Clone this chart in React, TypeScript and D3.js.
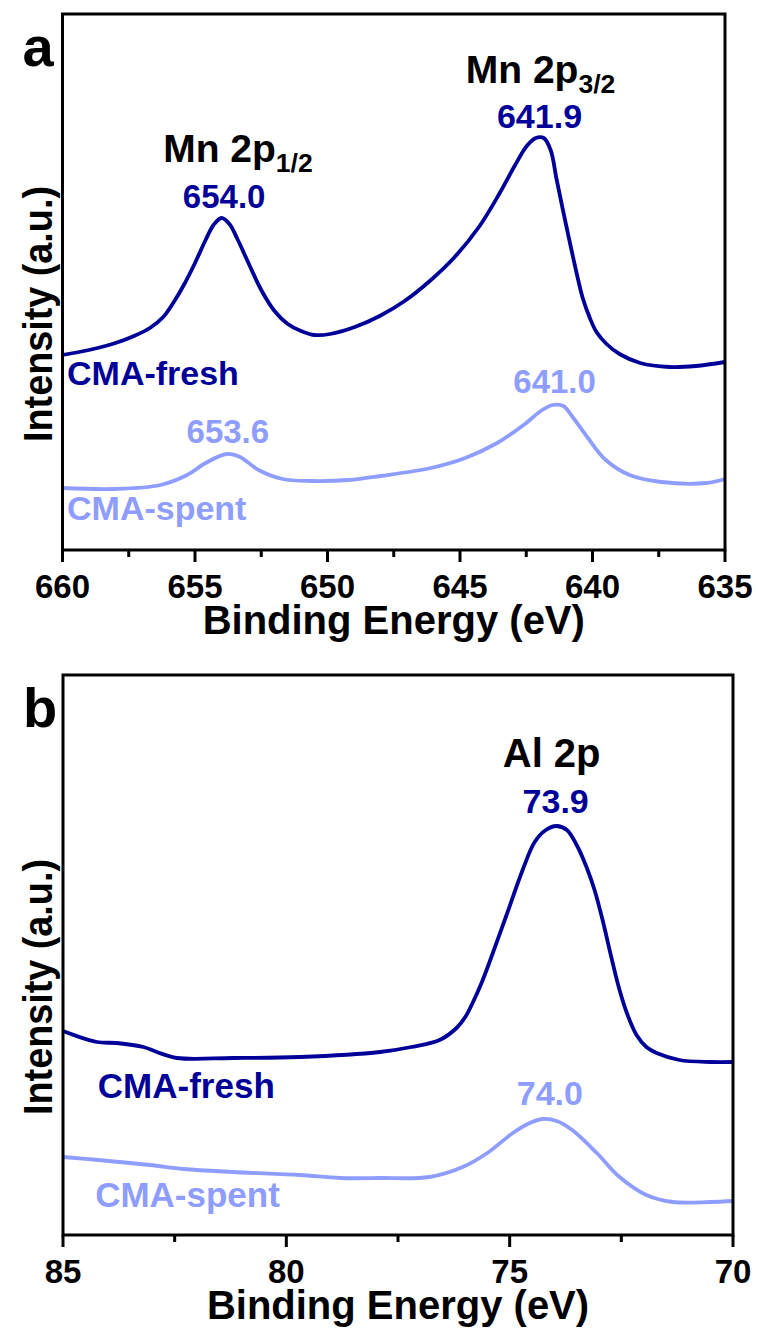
import React from 'react';
import * as d3 from 'd3';

// Mn 2p region (binding energy in eV, intensity in a.u.)
const MN_FRESH_E = [660, 659, 658, 657.3, 656.7, 656.2, 655.8, 655.4, 655, 654.6, 654.3, 654.0, 653.7, 653.4, 653, 652.5, 652, 651.5, 651, 650.5, 649.9, 648.97, 648.03, 647.09, 646.14, 645.2, 644.26, 643.5, 642.94, 642.48, 642.14, 641.84, 641.58, 641.35, 640.98, 640.6, 640.37, 640.1, 639.85, 639.47, 638.98, 638.2, 637.1, 636.1, 635];
const MN_FRESH_I = [195, 200, 207, 214, 222, 233, 248, 266, 287, 310, 325, 332, 326, 311, 288, 260, 239, 226, 219, 215, 216, 223, 234, 249, 269, 293, 324, 357, 384, 404, 412, 412, 400, 370, 323, 277, 252, 232, 218, 206, 196, 187, 183, 184, 188];
const MN_SPENT_E = [660, 658, 656.3, 655.3, 654.6, 653.8, 653.3, 652.6, 651.7, 650.6, 649.2, 648, 646.1, 644.8, 643.6, 642.6, 641.9, 641.5, 641.1, 640.75, 640.2, 639.5, 638.6, 637.4, 635.7, 635];
const MN_SPENT_I = [62, 61, 65, 75, 87, 96, 93, 80, 71, 69, 70, 74, 82, 92, 107, 125, 140, 145, 144, 133, 113, 90, 75, 68, 67, 71];
const MN_TICKS = [660, 655, 650, 645, 640, 635];

// Al 2p region
const AL_FRESH_E = [85, 84.24, 83.8, 83.2, 82.9, 82.45, 81.2, 79.7, 77.9, 77.2, 76.57, 76.19, 75.98, 75.83, 75.63, 75.45, 75.07, 74.71, 74.44, 74.19, 73.95, 73.72, 73.5, 73.28, 73.1, 72.92, 72.72, 72.54, 72.36, 72.16, 71.94, 71.71, 71.2, 70.5, 70];
const AL_FRESH_I = [204, 193, 192, 188, 183, 177, 177, 178, 183, 188, 195, 207, 219, 232, 252, 273, 320, 365, 393, 405, 409, 405, 390, 368, 345, 315, 277, 245, 220, 200, 188, 182, 175, 173, 173];
const AL_SPENT_E = [85, 84.2, 83.05, 82.3, 81.2, 79.7, 78.8, 77.9, 76.8, 76.05, 75.5, 74.93, 74.55, 74.26, 73.95, 73.6, 73.05, 72.54, 71.94, 71.35, 70.5, 70];
const AL_SPENT_I = [78, 75, 70, 66, 63, 60, 57, 57, 58, 68, 82, 102, 112, 116, 114, 105, 82, 58, 40, 33, 33, 34];
const AL_TICKS = [85, 80, 75, 70];

const FRESH = '#000099';
const SPENT = '#8E9DFF';
const FONT = '"Liberation Sans", Arial, sans-serif';

interface Note {
  text: string;
  sub?: string;
  e: number;
  i: number;
  color: string;
  size: number;
  anchor?: 'start' | 'middle';
}

const MN_NOTES: Note[] = [
  { text: 'Mn 2p', sub: '1/2', e: 653.38, i: 388, color: '#000', size: 39 },
  { text: '654.0', e: 653.9, i: 342, color: FRESH, size: 33 },
  { text: 'Mn 2p', sub: '3/2', e: 641.96, i: 467, color: '#000', size: 39 },
  { text: '641.9', e: 642.0, i: 422, color: FRESH, size: 34 },
  { text: '653.6', e: 653.76, i: 107, color: SPENT, size: 33 },
  { text: '641.0', e: 641.43, i: 157, color: SPENT, size: 33 },
  { text: 'CMA-fresh', e: 659.83, i: 165, color: FRESH, size: 34, anchor: 'start' },
  { text: 'CMA-spent', e: 659.83, i: 30, color: SPENT, size: 34, anchor: 'start' },
];

const AL_NOTES: Note[] = [
  { text: 'Al 2p', e: 74.06, i: 468, color: '#000', size: 40 },
  { text: '73.9', e: 73.97, i: 422, color: FRESH, size: 34 },
  { text: '74.0', e: 74.1, i: 130, color: SPENT, size: 34 },
  { text: 'CMA-fresh', e: 84.22, i: 137, color: FRESH, size: 35, anchor: 'start' },
  { text: 'CMA-spent', e: 84.28, i: 28, color: SPENT, size: 35, anchor: 'start' },
];

interface PanelProps {
  letter: string;
  left: number;
  right: number;
  top: number;
  bottom: number;
  xDomain: [number, number];
  yMax: number;
  ticks: number[];
  series: { e: number[]; i: number[]; color: string }[];
  notes: Note[];
}

const Panel: React.FC<PanelProps> = ({ letter, left, right, top, bottom, xDomain, yMax, ticks, series, notes }) => {
  const x = d3.scaleLinear().domain(xDomain).range([left, right]);
  const y = d3.scaleLinear().domain([0, yMax]).range([bottom, top]);
  const line = d3
    .line<[number, number]>()
    .x((d) => x(d[0]))
    .y((d) => y(d[1]))
    .curve(d3.curveCatmullRom.alpha(0.5));
  const minor = d3.pairs(ticks).map(([a, b]) => (a + b) / 2);
  const cx = (left + right) / 2;
  const cy = (top + bottom) / 2 + 32;

  return (
    <g fontFamily={FONT} fontWeight="bold">
      {series.map((s, k) => (
        <path
          key={k}
          d={line(s.e.map((e, j) => [e, s.i[j]] as [number, number])) || ''}
          fill="none"
          stroke={s.color}
          strokeWidth={3.8}
          strokeLinejoin="round"
        />
      ))}
      <rect x={left} y={top} width={right - left} height={bottom - top} fill="none" stroke="#000" strokeWidth={3} />
      {ticks.map((t) => (
        <g key={t}>
          <line x1={x(t)} x2={x(t)} y1={bottom} y2={bottom + 12} stroke="#000" strokeWidth={3} />
          <text x={x(t)} y={bottom + 48} textAnchor="middle" fontSize={33}>
            {t}
          </text>
        </g>
      ))}
      {minor.map((t) => (
        <line key={t} x1={x(t)} x2={x(t)} y1={bottom} y2={bottom + 7} stroke="#000" strokeWidth={3} />
      ))}
      <text x={cx} y={bottom + 84} textAnchor="middle" fontSize={40}>
        Binding Energy (eV)
      </text>
      <text
        transform={`translate(52,${cy}) rotate(-90)`}
        textAnchor="middle"
        fontSize={40}
        textLength={256}
        lengthAdjust="spacingAndGlyphs"
      >
        Intensity (a.u.)
      </text>
      <text x={left - 40} y={top + 52} fontSize={56}>
        {letter}
      </text>
      {notes.map((n, k) => (
        <text key={k} x={x(n.e)} y={y(n.i)} textAnchor={n.anchor || 'middle'} fontSize={n.size} fill={n.color}>
          {n.text}
          {n.sub && (
            <tspan fontSize={n.size * 0.68} dy={10}>
              {n.sub}
            </tspan>
          )}
        </text>
      ))}
    </g>
  );
};

export default function App() {
  return (
    <svg width={759} height={1334} style={{ position: 'absolute', left: 0, top: 0, background: '#fff' }}>
      <rect width={759} height={1334} fill="#fff" />
      <Panel
        letter="a"
        left={62.5}
        right={725}
        top={14}
        bottom={550}
        xDomain={[660, 635]}
        yMax={536}
        ticks={MN_TICKS}
        series={[
          { e: MN_FRESH_E, i: MN_FRESH_I, color: FRESH },
          { e: MN_SPENT_E, i: MN_SPENT_I, color: SPENT },
        ]}
        notes={MN_NOTES}
      />
      <Panel
        letter="b"
        left={63}
        right={733}
        top={675}
        bottom={1235}
        xDomain={[85, 70]}
        yMax={560}
        ticks={AL_TICKS}
        series={[
          { e: AL_FRESH_E, i: AL_FRESH_I, color: FRESH },
          { e: AL_SPENT_E, i: AL_SPENT_I, color: SPENT },
        ]}
        notes={AL_NOTES}
      />
    </svg>
  );
}
